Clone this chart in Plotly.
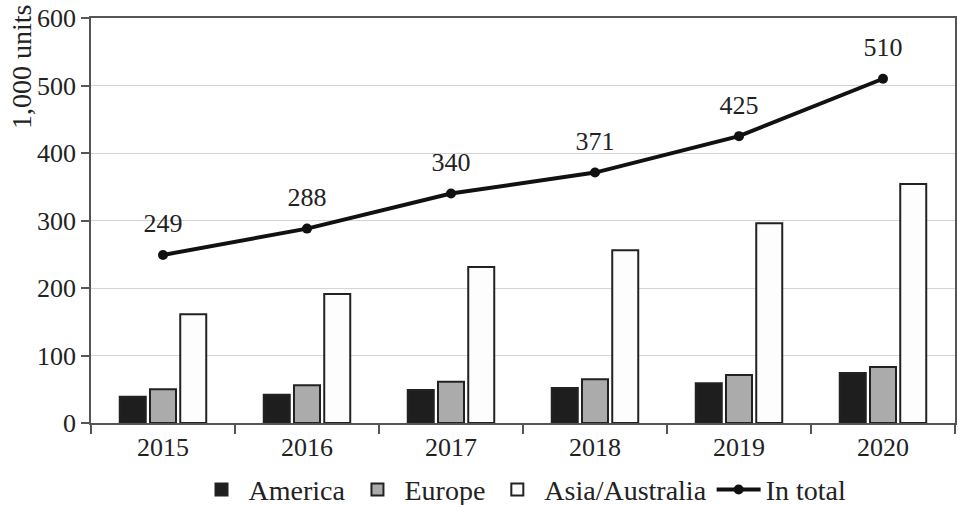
import plotly.graph_objects as go

years = ["2015", "2016", "2017", "2018", "2019", "2020"]
america = [39, 42, 49, 52, 59, 74]
europe = [50, 56, 61, 65, 71, 83]
asia = [161, 191, 231, 256, 296, 354]
total = [249, 288, 340, 371, 425, 510]

FONT = "Liberation Serif"
FS = 26
edge = dict(color="#222222", width=2)

fig = go.Figure()
fig.add_trace(go.Bar(x=years, y=america, name="America",
                     marker=dict(color="#1e1e1e", line=edge)))
fig.add_trace(go.Bar(x=years, y=europe, name="Europe",
                     marker=dict(color="#ababab", line=edge)))
fig.add_trace(go.Bar(x=years, y=asia, name="Asia/Australia",
                     marker=dict(color="#fdfdfd", line=edge)))
fig.add_trace(go.Scatter(x=years, y=total, name="In total",
                         mode="lines+markers",
                         line=dict(color="#111111", width=4),
                         marker=dict(color="#111111", size=10)))
# value labels above the total line
fig.add_trace(go.Scatter(x=years, y=total, mode="markers+text",
                         text=[str(v) for v in total], textposition="top center",
                         textfont=dict(family=FONT, size=FS, color="#222"),
                         marker=dict(size=24, opacity=0), showlegend=False,
                         hoverinfo="skip"))

fig.update_layout(
    width=958, height=505,
    margin=dict(l=91, r=3, t=18, b=82, autoexpand=False),
    paper_bgcolor="white", plot_bgcolor="white",
    font=dict(family=FONT, size=FS, color="#222"),
    barmode="group", bargap=0.37, bargroupgap=0.14,
    showlegend=True,
    legend=dict(orientation="h", x=0.5, xanchor="center",
                yref="container", y=0.03, yanchor="middle",
                font=dict(family=FONT, size=28, color="#222"),
                itemwidth=44, tracegroupgap=0, traceorder="normal"),
    annotations=[dict(text="1,000 units", xref="paper", yref="paper",
                      x=-0.081, y=1.037, xanchor="center", yanchor="top",
                      textangle=-90, showarrow=False,
                      font=dict(family=FONT, size=28, color="#222"))],
)
fig.update_xaxes(type="category", tickson="boundaries", ticks="outside", ticklen=9,
                 tickwidth=1.5, tickcolor="#555", showline=True, linecolor="#555",
                 linewidth=1.5, mirror=True, showgrid=False,
                 tickfont=dict(family=FONT, size=FS, color="#222"))
fig.update_yaxes(range=[0, 600], dtick=100, ticks="outside", ticklen=8, tickwidth=1.5,
                 tickcolor="#555", showline=True, linecolor="#555", linewidth=1.5,
                 mirror=True, showgrid=True, gridcolor="#d4d4d4", gridwidth=1.2,
                 zeroline=False,
                 tickfont=dict(family=FONT, size=FS, color="#222"))

fig.write_html("out.html")
